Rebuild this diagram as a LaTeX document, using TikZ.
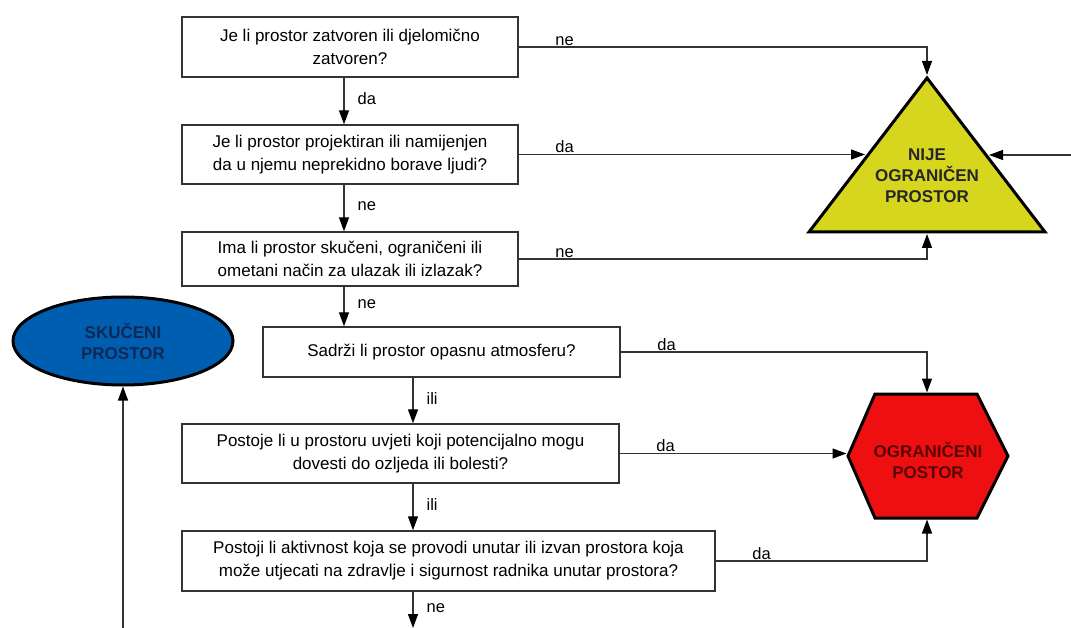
\documentclass[tikz,border=0pt]{standalone}
\usepackage{fontspec}
\setmainfont{Liberation Sans}
\usetikzlibrary{arrows.meta,shapes.geometric}
\definecolor{zutaboja}{RGB}{214,214,30}
\definecolor{crvenaboja}{RGB}{238,16,16}
\definecolor{plavaboja}{RGB}{0,94,176}
\definecolor{linija}{RGB}{51,51,51}
\definecolor{tamnocrvena}{RGB}{90,5,5}
\definecolor{tamnoplava}{RGB}{15,40,85}
\begin{document}
\begin{tikzpicture}[x=1pt, y=-1pt,
	pitanje/.style={draw=linija, line width=1.4pt, inner sep=0pt, align=center,
		font=\fontsize{17}{23}\selectfont},
	veza/.style={draw=linija, line width=1.3pt, -{Triangle[length=14pt,width=10pt,color=black]}},
	oznaka/.style={font=\fontsize{16.5}{18}\selectfont, inner sep=1pt},
	ishod/.style={draw=black, line width=3pt, line join=miter},
	ishodtekst/.style={align=center, font=\fontsize{17}{21}\selectfont\bfseries}]
	\useasboundingbox (0,0) rectangle (1071,628);
	% stupci za strelice
	\coordinate (kol) at (344,0);
	\coordinate (kol2) at (413,0);
	% pitanja
	\node[pitanje, minimum width=336, minimum height=60] (p1) at (350,47)
		{Je li prostor zatvoren ili djelomično\\zatvoren?};
	\node[pitanje, minimum width=336, minimum height=59] (p2) at (350,154.5)
		{Je li prostor projektiran ili namijenjen\\da u njemu neprekidno borave ljudi?};
	\node[pitanje, minimum width=336, minimum height=54] (p3) at (350,259)
		{Ima li prostor skučeni, ograničeni ili\\ometani način za ulazak ili izlazak?};
	\node[pitanje, minimum width=357, minimum height=50] (p4) at (441.5,352)
		{Sadrži li prostor opasnu atmosferu?};
	\node[pitanje, minimum width=437, minimum height=59] (p5) at (400.5,453.5)
		{Postoje li u prostoru uvjeti koji potencijalno mogu\\dovesti do ozljeda ili bolesti?};
	\node[pitanje, minimum width=533, minimum height=60] (p6) at (448.5,561)
		{Postoji li aktivnost koja se provodi unutar ili izvan prostora koja\\može utjecati na zdravlje i sigurnost radnika unutar prostora?};
	% nije ograniceni prostor
	\coordinate (nijeV) at (927,78);
	\coordinate (nijeA) at (809,232);
	\coordinate (nijeB) at (1045,232);
	\draw[ishod, fill=zutaboja] (nijeV) -- (nijeA) -- (nijeB) -- cycle;
	\node[ishodtekst, text=black!85] (nije) at (927,176) {NIJE\\OGRANIČEN\\PROSTOR};
	\coordinate (nijeT) at (927,75);
	\coordinate (nijeL) at (865,155);
	\coordinate (nijeR) at (989,155);
	\coordinate (nijeD) at (927,234);
	\coordinate (ulaz) at (1071,155);
	% ograniceni prostor
	\coordinate (hex1) at (875,394);
	\coordinate (hex2) at (977,394);
	\coordinate (hex3) at (1008,456);
	\coordinate (hex4) at (977,518);
	\coordinate (hex5) at (875,518);
	\coordinate (hex6) at (848,456);
	\draw[ishod, fill=crvenaboja] (hex1) -- (hex2) -- (hex3) -- (hex4) -- (hex5) -- (hex6) -- cycle;
	\node[ishodtekst, text=tamnocrvena] (ogr) at (928,460) {OGRANIČENI\\POSTOR};
	\coordinate (hexT) at (927,392.5);
	\coordinate (hexL) at (846.5,456);
	\coordinate (hexD) at (927,519.5);
	% skuceni prostor
	\node[ellipse, draw=black, line width=3pt, fill=plavaboja, minimum width=220, minimum height=88,
		inner sep=0pt, ishodtekst, text=tamnoplava] (skuc) at (123,341) {SKUČENI\\PROSTOR};
	\coordinate (dnoL) at (123,628);
	\coordinate (dnoD) at (413,628);
	% strelice
	\draw[veza] (p1.south -| kol) -- node[oznaka, pos=0.45, anchor=west, xshift=12]{da} (p2.north -| kol);
	\draw[veza] (p2.south -| kol) -- node[oznaka, pos=0.45, anchor=west, xshift=12]{ne} (p3.north -| kol);
	\draw[veza] (p3.south -| kol) -- node[oznaka, pos=0.45, anchor=west, xshift=12]{ne} (p4.north -| kol);
	\draw[veza] (p4.south -| kol2) -- node[oznaka, pos=0.45, anchor=west, xshift=12]{ili} (p5.north -| kol2);
	\draw[veza] (p5.south -| kol2) -- node[oznaka, pos=0.45, anchor=west, xshift=12]{ili} (p6.north -| kol2);
	\draw[veza] (p6.south -| kol2) -- node[oznaka, pos=0.45, anchor=west, xshift=12]{ne} (dnoD);
	\draw[veza] (p1.east) node[oznaka, anchor=south west, xshift=35]{ne} -- (p1.east -| nijeT) -- (nijeT);
	\draw[veza] (p2.east) node[oznaka, anchor=south west, xshift=35]{da} -- (p2.east -| nijeL);
	\draw[veza] (ulaz) -- (nijeR);
	\draw[veza] (p3.east) node[oznaka, anchor=south west, xshift=35]{ne} -- (p3.east -| nijeD) -- (nijeD);
	\draw[veza] (p4.east) node[oznaka, anchor=south west, xshift=35]{da} -- (p4.east -| hexT) -- (hexT);
	\draw[veza] (p5.east) node[oznaka, anchor=south west, xshift=35]{da} -- (p5.east -| hexL);
	\draw[veza] (p6.east) node[oznaka, anchor=south west, xshift=35]{da} -- (p6.east -| hexD) -- (hexD);
	\draw[veza] (dnoL) -- (skuc.south);
\end{tikzpicture}
\end{document}
